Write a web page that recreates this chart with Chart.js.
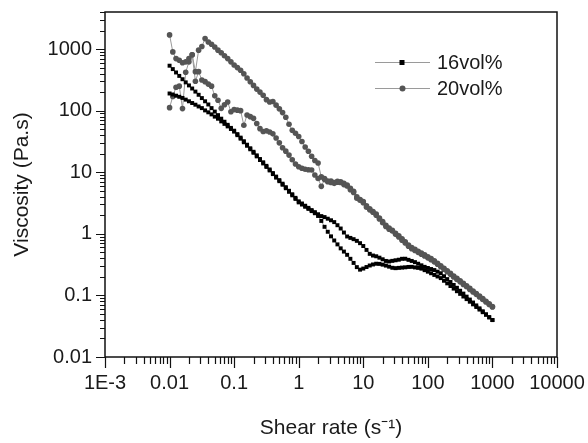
<!DOCTYPE html>
<html>
<head>
<meta charset="utf-8">
<script src="https://cdn.jsdelivr.net/npm/chart.js@4.4.1/dist/chart.umd.min.js"></script>
<style>
  html, body { margin: 0; padding: 0; background: #fff; }
  canvas { display: block; }
</style>
</head>
<body>
<canvas id="viscChart" width="588" height="443"></canvas>
<script>
// shear rate of every measured point (s^-1), same grid for all sweeps
const shearRate = [
  0.01, 0.01122, 0.01259, 0.01413, 0.01585, 0.01778, 0.01995, 0.02239, 0.02512, 0.02818,
  0.03162, 0.03548, 0.03981, 0.04467, 0.05012, 0.05623, 0.0631, 0.07079, 0.07943, 0.08913,
  0.1, 0.1122, 0.1259, 0.1413, 0.1585, 0.1778, 0.1995, 0.2239, 0.2512, 0.2818,
  0.3162, 0.3548, 0.3981, 0.4467, 0.5012, 0.5623, 0.631, 0.7079, 0.7943, 0.8913,
  1, 1.122, 1.259, 1.413, 1.585, 1.778, 1.995, 2.239, 2.512, 2.818,
  3.162, 3.548, 3.981, 4.467, 5.012, 5.623, 6.31, 7.079, 7.943, 8.913,
  10, 11.22, 12.59, 14.13, 15.85, 17.78, 19.95, 22.39, 25.12, 28.18,
  31.62, 35.48, 39.81, 44.67, 50.12, 56.23, 63.1, 70.79, 79.43, 89.13,
  100, 112.2, 125.9, 141.3, 158.5, 177.8, 199.5, 223.9, 251.2, 281.8,
  316.2, 354.8, 398.1, 446.7, 501.2, 562.3, 631, 707.9, 794.3, 891.3,
  1000
]

// viscosity (Pa.s), 16 vol%
const vol16Up = [
  190, 183, 175, 168, 161, 151, 142, 133, 125, 117,
  110, 101, 94, 87, 80, 74, 67, 61, 55.5, 50.4,
  45.7, 40.0, 35.1, 30.7, 26.9, 23.6, 20.7, 18.1, 15.8, 13.9,
  12.2, 10.7, 9.33, 8.18, 7.16, 6.27, 5.5, 4.81, 4.22, 3.69,
  3.24, 2.99, 2.75, 2.54, 2.34, 2.16, 1.95, 1.62, 1.3, 1.08,
  0.91, 0.78, 0.674, 0.581, 0.515, 0.456, 0.393, 0.337, 0.288, 0.262,
  0.273, 0.289, 0.306, 0.318, 0.327, 0.325, 0.316, 0.305, 0.293, 0.281,
  0.277, 0.28, 0.283, 0.286, 0.29, 0.291, 0.285, 0.28, 0.272, 0.257,
  0.243, 0.229, 0.215, 0.203, 0.191, 0.173, 0.157, 0.142, 0.129, 0.117,
  0.106, 0.096, 0.0871, 0.079, 0.0716, 0.0649, 0.0589, 0.0534, 0.0484, 0.0439,
  0.0398
]
const vol16Down = [
  537, 473, 417, 367, 324, 288, 257, 229, 204, 181,
  160, 142, 126, 110, 96.6, 84.6, 74.1, 66.1, 58.9, 52.5,
  47.3, 41.6, 36.5, 31.9, 28.0, 24.5, 21.5, 18.8, 16.4, 14.5,
  12.7, 11.1, 9.7, 8.5, 7.45, 6.52, 5.72, 5.0, 4.39, 3.84,
  3.37, 3.11, 2.86, 2.64, 2.43, 2.25, 2.08, 1.94, 1.87, 1.76,
  1.66, 1.55, 1.38, 1.22, 1.05, 0.906, 0.859, 0.819, 0.769, 0.705,
  0.634, 0.548, 0.473, 0.444, 0.432, 0.41, 0.386, 0.363, 0.356, 0.364,
  0.372, 0.38, 0.393, 0.394, 0.378, 0.363, 0.347, 0.327, 0.308, 0.291,
  0.279, 0.268, 0.258, 0.243, 0.229, 0.205, 0.184, 0.165, 0.148, 0.133,
  0.119, 0.107, 0.0955, 0.0856, 0.0767, 0.0688, 0.0617, 0.0553, 0.0495, 0.0444,
  0.0398
]

// viscosity (Pa.s), 20 vol%
const vol20Up = [
  112, 170, 240, 250, 108, 420, 620, 810, 430, 960,
  1100, 1480, 1300, 1200, 1080, 960, 870, 780, 700, 620,
  550, 500, 452, 398, 339, 295, 257, 224, 200, 178,
  151, 138, 141, 123, 107, 93, 78, 60, 48, 43,
  38, 31.6, 25.7, 21.9, 18.2, 15.5, 14.1, 8.4, 7.9, 7.0,
  7.2, 6.6, 7.1, 7.0, 6.3, 6.0, 5.2, 4.9, 4.0, 3.6,
  3.35, 2.85, 2.55, 2.3, 2.1, 1.8, 1.58, 1.38, 1.24, 1.14,
  1.02, 0.93, 0.83, 0.74, 0.66, 0.6, 0.56, 0.52, 0.487, 0.455,
  0.424, 0.395, 0.365, 0.333, 0.303, 0.276, 0.251, 0.228, 0.207, 0.189,
  0.172, 0.157, 0.143, 0.13, 0.118, 0.107, 0.0975, 0.0886, 0.0803, 0.073,
  0.066
]
const vol20Down = [
  1700, 900, 700, 660, 600, 620, 700, 810, 300, 430,
  315, 296, 270, 250, 174, 148, 109, 125, 138, 96,
  104, 102, 100, 58, 85, 80, 75, 62, 51, 46,
  47, 45, 42, 36, 30, 25, 22, 19, 16, 13.6,
  12.3, 11.6, 11.2, 11.0, 10.9, 9.0, 7.9, 5.9, 7.6, 7.2,
  6.8, 6.8, 6.9, 6.8, 6.6, 6.2, 5.5, 4.7, 3.8, 3.5,
  3.2, 2.7, 2.45, 2.24, 2.0, 1.74, 1.51, 1.32, 1.19, 1.11,
  0.98, 0.89, 0.79, 0.71, 0.63, 0.575, 0.537, 0.5, 0.468, 0.437,
  0.407, 0.38, 0.351, 0.32, 0.292, 0.266, 0.242, 0.22, 0.2, 0.182,
  0.166, 0.151, 0.138, 0.125, 0.114, 0.104, 0.0946, 0.0861, 0.0783, 0.0714,
  0.065
]

const seriesNames = ["16vol%", "20vol%"]

const xDecades = [0.001, 0.01, 0.1, 1, 10, 100, 1000, 10000]
const xTickLabels = ["1E-3", "0.01", "0.1", "1", "10", "100", "1000", "10000"]
const yDecades = [0.01, 0.1, 1, 10, 100, 1000]
const yTickLabels = ["0.01", "0.1", "1", "10", "100", "1000"]

const FONT = "'Liberation Sans', Arial, Helvetica, sans-serif"
const INK = "#1a1a1a"

// =========================
// HELPERS
// =========================

// up sweep forward, then down sweep back
function toLoop(up, down){
    const fwd = shearRate.map((x, i) => ({ x: x, y: up[i] }))
    const back = shearRate.map((x, i) => ({ x: x, y: down[i] })).reverse()
    return fwd.concat(back)
}

function isDecade(v){
    const l = Math.log10(v)
    return Math.abs(l - Math.round(l)) < 1e-6
}

function withMinors(decades, max){
    const out = []
    decades.forEach(d => {
        out.push(d)
        for (let m = 2; m <= 9; m++) {
            if (d * m <= max * 1.0001) out.push(d * m)
        }
    })
    return out
}

function labelFor(v, decades, labels){
    const i = decades.findIndex(d => Math.abs(v / d - 1) < 1e-6)
    return i >= 0 ? labels[i] : ""
}

// =========================
// FRAME, TICK MARKS, LEGEND
// =========================
const frameAndTicks = {
    id: "frameAndTicks",
    afterDraw(chart){
        const ctx = chart.ctx
        const a = chart.chartArea
        const xs = chart.scales.x
        const ys = chart.scales.y

        ctx.save()
        ctx.strokeStyle = "#111"
        ctx.lineWidth = 1.5
        ctx.strokeRect(a.left, a.top, a.right - a.left, a.bottom - a.top)

        ctx.lineWidth = 1.2
        ctx.beginPath()
        xs.ticks.forEach(t => {
            const px = Math.round(xs.getPixelForValue(t.value)) + 0.5
            const len = isDecade(t.value) ? 11 : 7
            ctx.moveTo(px, a.bottom)
            ctx.lineTo(px, a.bottom + len)
        })
        ys.ticks.forEach(t => {
            const py = Math.round(ys.getPixelForValue(t.value)) + 0.5
            const len = isDecade(t.value) ? 9 : 5
            ctx.moveTo(a.left, py)
            ctx.lineTo(a.left - len, py)
        })
        ctx.stroke()

        // legend
        const lx = 375, ly = 62, gap = 26
        chart.data.datasets.forEach((ds, i) => {
            const y = ly + i * gap
            ctx.strokeStyle = "#9a9a9a"
            ctx.lineWidth = 1
            ctx.beginPath()
            ctx.moveTo(lx, y + 0.5)
            ctx.lineTo(lx + 55, y + 0.5)
            ctx.stroke()
            ctx.fillStyle = ds.pointBackgroundColor
            if (ds.pointStyle === "rect") {
                ctx.fillRect(lx + 27 - 2.5, y - 2, 5, 5)
            } else {
                ctx.beginPath()
                ctx.arc(lx + 27.5, y + 0.5, 3, 0, Math.PI * 2)
                ctx.fill()
            }
            ctx.fillStyle = INK
            ctx.font = "20px " + FONT
            ctx.textBaseline = "middle"
            ctx.textAlign = "left"
            ctx.fillText(ds.label, lx + 62, y + 1)
        })
        ctx.restore()
    }
}

// =========================
// CHART
// =========================
const viscChart = new Chart(document.getElementById("viscChart"), {
    type: "scatter",
    data: {
        datasets: [
            {
                label: seriesNames[0],
                data: toLoop(vol16Up, vol16Down),
                showLine: true,
                borderColor: "#999999",
                borderWidth: 1,
                pointStyle: "rect",
                pointRadius: 2.8,
                pointBackgroundColor: "#000",
                pointBorderWidth: 0
            },
            {
                label: seriesNames[1],
                data: toLoop(vol20Up, vol20Down),
                showLine: true,
                borderColor: "#999999",
                borderWidth: 1,
                pointStyle: "circle",
                pointRadius: 2.8,
                pointBackgroundColor: "#555555",
                pointBorderWidth: 0
            }
        ]
    },
    options: {
        responsive: false,
        animation: false,
        devicePixelRatio: 1,
        layout: { padding: { top: 12, right: 31, left: 0, bottom: 0 } },
        plugins: {
            legend: { display: false },
            tooltip: { enabled: false }
        },
        scales: {
            x: {
                type: "logarithmic",
                min: 0.001,
                max: 10000,
                afterBuildTicks: s => { s.ticks = withMinors(xDecades, 10000).map(v => ({ value: v })) },
                afterFit: s => {
                    s.height = 86
                    s.paddingLeft = 0
                    s.paddingRight = 0
                },
                grid: { display: false, drawTicks: false },
                border: { display: false },
                ticks: {
                    autoSkip: false,
                    maxRotation: 0,
                    padding: 14,
                    color: INK,
                    font: { family: FONT, size: 20 },
                    callback: v => labelFor(v, xDecades, xTickLabels)
                },
                title: {
                    display: true,
                    text: "Shear rate (s\u207B\u00B9)",
                    color: INK,
                    font: { family: FONT, size: 21 },
                    padding: { top: 0, bottom: 2 }
                }
            },
            y: {
                type: "logarithmic",
                min: 0.01,
                max: 4000,
                afterBuildTicks: s => { s.ticks = withMinors(yDecades, 4000).map(v => ({ value: v })) },
                afterFit: s => {
                    s.width = 105
                    s.paddingTop = 0
                    s.paddingBottom = 0
                },
                grid: { display: false, drawTicks: false },
                border: { display: false },
                ticks: {
                    autoSkip: false,
                    padding: 13,
                    color: INK,
                    font: { family: FONT, size: 20 },
                    callback: v => labelFor(v, yDecades, yTickLabels)
                },
                title: {
                    display: true,
                    text: "Viscosity (Pa.s)",
                    color: INK,
                    font: { family: FONT, size: 21 },
                    padding: { top: 10, bottom: 0 }
                }
            }
        }
    },
    plugins: [frameAndTicks]
})
</script>
</body>
</html>
